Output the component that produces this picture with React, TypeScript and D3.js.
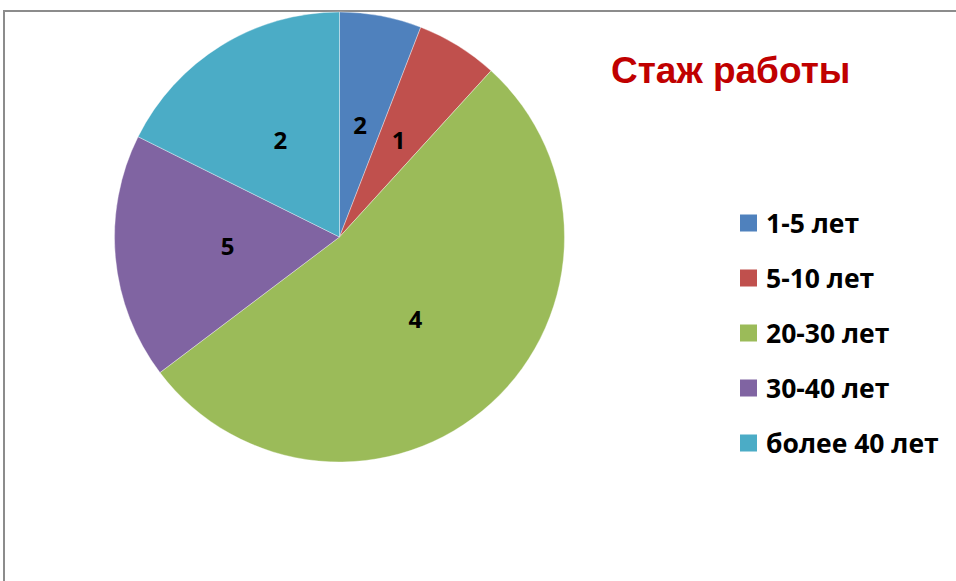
import React from "react";
import * as d3 from "d3";

const categories = ["1-5 лет", "5-10 лет", "20-30 лет", "30-40 лет", "более 40 лет"];
const sliceValues = [1, 1, 9, 3, 3];
const dataLabels = ["2", "1", "4", "5", "2"];
const colors = ["#4F81BD", "#C0504D", "#9BBB59", "#8064A2", "#4BACC6"];
const title = "Стаж работы";

const W = 956;
const H = 581;

export default function App() {
  const cx = 339.5;
  const cy = 237;
  const r = 225;
  const pie = d3.pie<number>().sort(null).value((d) => d);
  const arcs = pie(sliceValues);
  const arc = d3.arc<d3.PieArcDatum<number>>().innerRadius(0).outerRadius(r);
  const legendY = d3.scalePoint<string>().domain(categories).range([223, 443]);

  return (
    <svg width={W} height={H} style={{ position: "absolute", left: 0, top: 0, background: "#fff" }}>
      <rect x={4} y={11} width={W + 10} height={H + 10} fill="#fff" stroke="#8c8c8c" strokeWidth={2} />
      <g transform={`translate(${cx},${cy})`}>
        {arcs.map((a, i) => (
          <path key={i} d={arc(a) || ""} fill={colors[i]} stroke="#ffffff" strokeWidth={0.6} strokeOpacity={0.6} />
        ))}
        {arcs.map((a, i) => {
          const [x, y] = arc.centroid(a);
          return (
            <text
              key={i}
              x={x}
              y={y - 2}
              textAnchor="middle"
              dominantBaseline="central"
              fontFamily="'Open Sans', 'Noto Sans', sans-serif"
              fontWeight="bold"
              fontSize={24}
              fill="#000"
            >
              {dataLabels[i]}
            </text>
          );
        })}
      </g>
      <text
        x={611}
        y={83}
        fontFamily="'Liberation Sans', Arial, sans-serif"
        fontWeight="bold"
        fontSize={37}
        fill="#C00000"
      >
        {title}
      </text>
      {categories.map((c, i) => {
        const y = legendY(c) as number;
        return (
          <g key={c}>
            <rect x={740} y={y - 8.5} width={17} height={17} fill={colors[i]} />
            <text
              x={766}
              y={y}
              dominantBaseline="central"
              fontFamily="'Open Sans', 'Noto Sans', sans-serif"
              fontWeight="bold"
              fontSize={26.5}
              fill="#000"
            >
              {c}
            </text>
          </g>
        );
      })}
    </svg>
  );
}
